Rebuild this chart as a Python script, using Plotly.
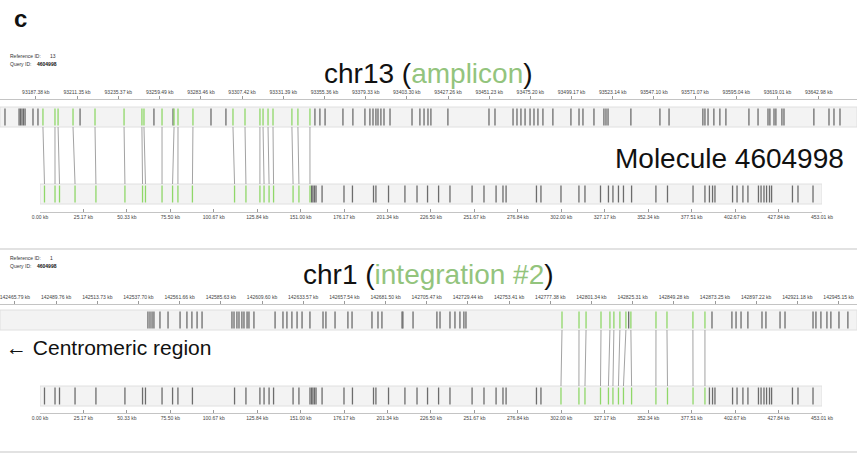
import plotly.graph_objects as go

# ---------------- data (kb) ----------------
MOL_ID = "4604998"
MOL_LEN = 453.01

# label positions along molecule 4604998
mol_labels = [2.6, 8.7, 11.3, 20.3, 32.4, 49.2, 59.4, 61.1, 70.7, 76.8, 79.9, 88.3,
              112.7, 119.3, 127.4, 129.8, 132.7, 135.3, 146.6, 150.0, 156.4, 157.3,
              158.1, 159.0, 159.9, 163.4, 176.1, 181.0, 193.2, 194.6, 201.9, 211.4,
              218.4, 224.5, 230.9, 237.5, 250.3, 257.2, 264.2, 268.2, 270.0, 287.6,
              290.2, 301.8, 312.2, 315.7, 324.7, 329.3, 331.9, 335.1, 338.0, 342.7,
              356.8, 363.5, 378.3, 385.2, 387.8, 389.6, 391.0, 401.2, 403.8, 407.2,
              410.1, 416.2, 417.7, 419.4, 420.9, 422.6, 423.8, 435.9, 439.1, 447.8]

mol_ticks = [0.00, 25.17, 50.33, 75.50, 100.67, 125.84, 151.00, 176.17, 201.34,
             226.50, 251.67, 276.84, 302.00, 327.17, 352.34, 377.51, 402.67,
             427.84, 453.01]

# chr13 reference window
chr13_view = [93166.5, 93665.3]
chr13_ticks = [93187.38, 93211.35, 93235.37, 93259.49, 93283.46, 93307.42, 93331.39,
               93355.36, 93379.33, 93403.30, 93427.26, 93451.23, 93475.20, 93499.17,
               93523.14, 93547.10, 93571.07, 93595.04, 93619.01, 93642.98]
chr13_ref_labels = [93169.4, 93177.6, 93178.4, 93179.3, 93180.2, 93181.1, 93185.7,
                    93188.6, 93213.1, 93256.1, 93267.2, 93289.3, 93298.0, 93349.8,
                    93352.7, 93355.7, 93366.1, 93371.9, 93378.9, 93381.8, 93383.6,
                    93385.3, 93386.5, 93388.2, 93390.0, 93393.5, 93406.3, 93410.9,
                    93413.3, 93415.6, 93417.3, 93427.2, 93451.1, 93454.6, 93465.1,
                    93467.4, 93469.7, 93472.1, 93475.0, 93477.3, 93479.6, 93482.5,
                    93488.3, 93498.8, 93503.5, 93505.8, 93512.2, 93518.0, 93519.2,
                    93520.4, 93533.7, 93550.6, 93555.9, 93575.6, 93576.8, 93578.6,
                    93582.0, 93585.5, 93589.0, 93602.4, 93607.7, 93613.5, 93614.6,
                    93617.0, 93618.1, 93621.6, 93622.8, 93640.2, 93649.0, 93651.9,
                    93655.4]
chr13_aln_ref = [93191.5, 93198.5, 93200.3, 93209.0, 93221.8, 93238.7, 93249.1,
                 93250.3, 93260.8, 93267.8, 93270.1, 93278.8, 93302.1, 93309.1,
                 93317.8, 93319.6, 93322.5, 93325.4, 93336.4, 93339.9, 93346.9]
chr13_aln_mol = [2.6, 8.7, 11.3, 20.3, 32.4, 49.2, 59.4, 61.1, 70.7, 76.8, 79.9,
                 88.3, 112.7, 119.3, 127.4, 129.8, 132.7, 135.3, 146.6, 150.0, 156.4]

# chr1 reference window
chr1_view = [142457.1, 142955.9]
chr1_ticks = [142465.79, 142489.76, 142513.73, 142537.70, 142561.66, 142585.63,
              142609.60, 142633.57, 142657.54, 142681.50, 142705.47, 142729.44,
              142753.41, 142777.38, 142801.34, 142825.31, 142849.28, 142873.25,
              142897.22, 142921.18, 142945.15]
chr1_ref_labels = [142543.2, 142544.4, 142545.6, 142546.7, 142550.2, 142554.9,
                   142561.9, 142565.9, 142568.8, 142571.8, 142574.7, 142592.1,
                   142593.3, 142595.0, 142596.2, 142597.9, 142599.1, 142600.9,
                   142602.0, 142604.9, 142617.2, 142621.8, 142624.1, 142627.0,
                   142630.0, 142632.9, 142637.5, 142645.1, 142646.8, 142652.1,
                   142659.6, 142662.0, 142673.6, 142677.1, 142679.4, 142691.1,
                   142691.6, 142697.5, 142711.4, 142713.2, 142719.0, 142721.9,
                   142724.8, 142727.1, 142728.3, 142823.0, 142871.5, 142883.1,
                   142885.5, 142888.4, 142892.4, 142900.6, 142902.9, 142911.1,
                   142914.0, 142930.3, 142932.0, 142934.9, 142938.4, 142940.7,
                   142945.4, 142950.6]
chr1_aln_ref = [142784.2, 142794.1, 142798.2, 142806.9, 142812.1, 142814.4,
                142817.9, 142821.4, 142824.3, 142838.9, 142845.3, 142860.4, 142867.4]
chr1_aln_mol = [301.8, 312.2, 315.7, 324.7, 329.3, 331.9, 335.1, 338.0, 342.7,
                356.8, 363.5, 378.3, 385.2]

# ---------------- styling ----------------
W, H = 857, 455
FONT = "Arial, Liberation Sans, sans-serif"
GREEN = "#8fd768"
TITLE_GREEN = "#93c47d"
GRAY = "#6c6c6c"
LINK = "#a3a3a3"
BAR_FILL = "#f3f3f3"
BAR_EDGE = "#e0e0e0"
MOL_DOMAIN = [40 / W, 822 / W]

# vertical layout (rows in px, y axis runs top->bottom)
panels = [
    dict(chrom="chr13", note="amplicon", ref_id="13", view=chr13_view, ticks=chr13_ticks,
         ref=chr13_ref_labels, aln_ref=chr13_aln_ref, aln_mol=chr13_aln_mol,
         id_row=56, title_row=73, ref_axis=99, ref_bar=(107, 127),
         mol_bar=(184, 204), mol_axis=212, xr="x", xq="x2"),
    dict(chrom="chr1", note="integration #2", ref_id="1", view=chr1_view, ticks=chr1_ticks,
         ref=chr1_ref_labels, aln_ref=chr1_aln_ref, aln_mol=chr1_aln_mol,
         id_row=258, title_row=274, ref_axis=304, ref_bar=(310, 330),
         mol_bar=(386, 406), mol_axis=413, xr="x3", xq="x4"),
]


def ticks_path(xs, top, bottom):
    px, py = [], []
    for v in xs:
        px += [v, v, None]
        py += [top, bottom, None]
    return px, py


def ref_frac(view, v):
    return (v - view[0]) / (view[1] - view[0])


def mol_frac(v):
    return MOL_DOMAIN[0] + v / MOL_LEN * (MOL_DOMAIN[1] - MOL_DOMAIN[0])


fig = go.Figure()
shapes, annotations = [], []
layout_axes = {}

for p in panels:
    rt, rb = p["ref_bar"]
    qt, qb = p["mol_bar"]

    # bars
    shapes.append(dict(type="rect", xref="paper", yref="y", x0=0, x1=1, y0=rt, y1=rb,
                       fillcolor=BAR_FILL, line=dict(color=BAR_EDGE, width=1), layer="below"))
    shapes.append(dict(type="rect", xref=p["xq"], yref="y", x0=0, x1=MOL_LEN, y0=qt, y1=qb,
                       fillcolor=BAR_FILL, line=dict(color=BAR_EDGE, width=1), layer="below"))

    # alignment links between matched labels
    lx, ly = [], []
    for r, m in zip(p["aln_ref"], p["aln_mol"]):
        lx += [ref_frac(p["view"], r), mol_frac(m), None]
        ly += [rb, qt, None]
    fig.add_trace(go.Scatter(x=lx, y=ly, mode="lines", xaxis="x5", yaxis="y",
                             line=dict(color=LINK, width=1), hoverinfo="skip", showlegend=False))

    # reference labels
    gx, gy = ticks_path(p["ref"], rt + 1.5, rb - 1.5)
    fig.add_trace(go.Scatter(x=gx, y=gy, mode="lines", xaxis=p["xr"], yaxis="y",
                             line=dict(color=GRAY, width=1.3), hoverinfo="skip", showlegend=False))
    ax_, ay_ = ticks_path(p["aln_ref"], rt + 1.5, rb - 1.5)
    fig.add_trace(go.Scatter(x=ax_, y=ay_, mode="lines", xaxis=p["xr"], yaxis="y",
                             line=dict(color=GREEN, width=1.3), hoverinfo="skip", showlegend=False))

    # molecule labels
    unaligned = [v for v in mol_labels if v not in p["aln_mol"]]
    mx, my = ticks_path(unaligned, qt + 1.5, qb - 1.5)
    fig.add_trace(go.Scatter(x=mx, y=my, mode="lines", xaxis=p["xq"], yaxis="y",
                             line=dict(color=GRAY, width=1.3), hoverinfo="skip", showlegend=False))
    mgx, mgy = ticks_path(p["aln_mol"], qt + 1.5, qb - 1.5)
    fig.add_trace(go.Scatter(x=mgx, y=mgy, mode="lines", xaxis=p["xq"], yaxis="y",
                             line=dict(color=GREEN, width=1.3), hoverinfo="skip", showlegend=False))

    axis_common = dict(showgrid=False, zeroline=False, showline=True, linecolor="#c4c4c4",
                       linewidth=1, tickcolor="#9a9a9a", ticklen=3, tickwidth=1,
                       tickfont=dict(family=FONT, size=5, color="#444"), anchor="free",
                       automargin=False, ticklabeloverflow="allow", fixedrange=True)
    rname = "xaxis" if p["xr"] == "x" else "xaxis" + p["xr"][1:]
    qname = "xaxis" + p["xq"][1:]
    layout_axes[rname] = dict(axis_common, domain=[0, 1], range=p["view"], side="top",
                              ticks="outside", position=1 - p["ref_axis"] / H,
                              tickvals=p["ticks"], ticktext=[f"{v:.2f} kb" for v in p["ticks"]])
    layout_axes[qname] = dict(axis_common, domain=MOL_DOMAIN, range=[0, MOL_LEN], side="bottom",
                              ticks="inside", position=1 - p["mol_axis"] / H,
                              tickvals=mol_ticks, ticktext=[f"{v:.2f} kb" for v in mol_ticks])

    # header texts
    annotations.append(dict(x=8 / W, y=p["id_row"], xref="paper", yref="y", xanchor="left",
                            yanchor="middle", showarrow=False, text="Reference ID:",
                            font=dict(family=FONT, size=5, color="#333")))
    annotations.append(dict(x=48 / W, y=p["id_row"], xref="paper", yref="y", xanchor="left",
                            yanchor="middle", showarrow=False, text=p["ref_id"],
                            font=dict(family=FONT, size=5, color="#333")))
    annotations.append(dict(x=8 / W, y=p["id_row"] + 8, xref="paper", yref="y", xanchor="left",
                            yanchor="middle", showarrow=False, text="Query ID:",
                            font=dict(family=FONT, size=5, color="#333")))
    annotations.append(dict(x=35 / W, y=p["id_row"] + 8, xref="paper", yref="y", xanchor="left",
                            yanchor="middle", showarrow=False, text=f"<b>{MOL_ID}</b>",
                            font=dict(family=FONT, size=5, color="#111")))
    annotations.append(dict(x=429 / W, y=p["title_row"], xref="paper", yref="y",
                            xanchor="center", yanchor="middle", showarrow=False,
                            text=f"{p['chrom']} (<span style='color:{TITLE_GREEN}'>{p['note']}</span>)",
                            font=dict(family=FONT, size=28, color="#111")))

annotations.append(dict(x=12 / W, y=18, xref="paper", yref="y", xanchor="left", yanchor="middle",
                        showarrow=False, text="<b>c</b>",
                        font=dict(family=FONT, size=24, color="#111")))
annotations.append(dict(x=846 / W, y=158, xref="paper", yref="y", xanchor="right",
                        yanchor="middle", showarrow=False, text=f"Molecule {MOL_ID}",
                        font=dict(family=FONT, size=28, color="#111")))
annotations.append(dict(x=4 / W, y=347, xref="paper", yref="y", xanchor="left",
                        yanchor="middle", showarrow=False, text="← Centromeric region",
                        font=dict(family=FONT, size=21, color="#111")))

# panel separators
for row in (249, 452):
    shapes.append(dict(type="line", xref="paper", yref="y", x0=0, x1=1, y0=row, y1=row,
                       line=dict(color="#e2e2e2", width=2), layer="below"))

fig.update_layout(
    width=W, height=H, margin=dict(l=0, r=0, t=0, b=0, pad=0, autoexpand=False),
    paper_bgcolor="white", plot_bgcolor="rgba(0,0,0,0)",
    showlegend=False, shapes=shapes, annotations=annotations,
    yaxis=dict(domain=[0, 1], range=[H, 0], visible=False, fixedrange=True),
    xaxis5=dict(domain=[0, 1], range=[0, 1], visible=False, anchor="y", fixedrange=True),
    **layout_axes,
)

fig.write_html("out.html")
